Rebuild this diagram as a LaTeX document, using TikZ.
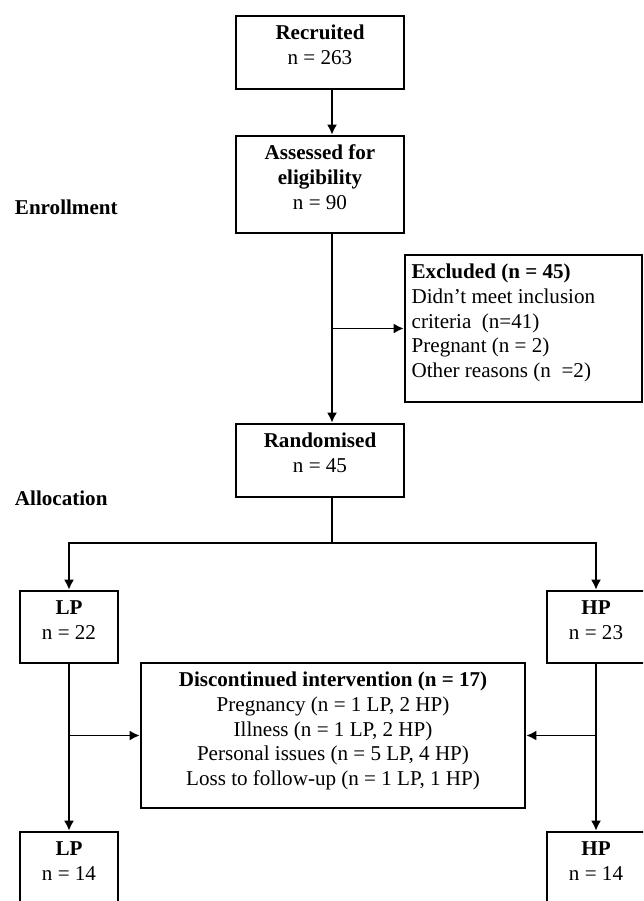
\documentclass[tikz,border=0pt]{standalone}
\usepackage{fontspec}
\setmainfont{Liberation Serif}
\usetikzlibrary{arrows.meta}
\def\pxu{0.03cm}

\begin{document}
\begin{tikzpicture}[x=\pxu,y=-\pxu,line width=1.6pt,
box/.style={draw,rectangle,line width=2.2pt,inner sep=0pt,minimum width=168*\pxu},
armbox/.style={box,minimum width=98*\pxu,minimum height=72*\pxu},
boxtext/.style={anchor=north,align=center,inner sep=0pt,font=\fontsize{18}{21.3}\selectfont},
stage/.style={anchor=west,inner sep=0pt,font=\fontsize{18}{21.3}\selectfont\bfseries},
flow/.style={-{Latex[length=3mm,width=3mm]}}]

\useasboundingbox (0,0) rectangle (643,901);
\clip (0,0) rectangle (643,901);

% stage labels
\node[stage] (enrol) at (14,207) {Enrollment};
\node[stage] (alloc) at (14,498) {Allocation};

% boxes
\node[box,minimum height=73*\pxu] (rec) at (320,52.5) {};
\node[boxtext] (rec-t) at ([yshift=-6*\pxu]rec.north) {\strut\textbf{Recruited}\\n = 263};
\node[box,minimum height=97*\pxu] (ass) at (320,184.5) {};
\node[boxtext] (ass-t) at ([yshift=-6*\pxu]ass.north) {\strut\textbf{Assessed for}\\\textbf{eligibility}\\n = 90};
\node[box,minimum width=237*\pxu,minimum height=147*\pxu] (exc) at (523.5,328.5) {};
\node[boxtext,anchor=north west,align=left] (exc-t) at ([xshift=7*\pxu,yshift=-6*\pxu]exc.north west) {\strut\textbf{Excluded (n = 45)}\\Didn’t meet inclusion\\criteria\ \ (n=41)\\Pregnant (n = 2)\\Other reasons (n\ \ =2)};
\node[box,minimum height=73*\pxu] (ran) at (320,460.5) {};
\node[boxtext] (ran-t) at ([yshift=-6*\pxu]ran.north) {\strut\textbf{Randomised}\\n = 45};

\node[armbox] (lp1) at (69,627) {};
\node[boxtext] (lp1-t) at ([yshift=-6*\pxu]lp1.north) {\strut\textbf{LP}\\n = 22};
\node[armbox] (hp1) at (596,627) {};
\node[boxtext] (hp1-t) at ([yshift=-6*\pxu]hp1.north) {\strut\textbf{HP}\\n = 23};
\node[box,minimum width=384*\pxu,minimum height=145*\pxu] (dis) at (333,735.5) {};
\node[boxtext] (dis-t) at ([yshift=-6*\pxu]dis.north) {\strut\textbf{Discontinued intervention (n = 17)}\\Pregnancy (n = 1 LP, 2 HP)\\Illness (n = 1 LP, 2 HP)\\Personal issues (n = 5 LP, 4 HP)\\Loss to follow-up (n = 1 LP, 1 HP)};
\node[armbox] (lp2) at (69,868) {};
\node[boxtext] (lp2-t) at ([yshift=-6*\pxu]lp2.north) {\strut\textbf{LP}\\n = 14};
\node[armbox] (hp2) at (596,868) {};
\node[boxtext] (hp2-t) at ([yshift=-6*\pxu]hp2.north) {\strut\textbf{HP}\\n = 14};

% connectors
\coordinate (spine) at (332,0);
\coordinate (split) at (332,543);
\draw[flow] (rec.south -| spine) -- (ass.north -| spine);
\draw[flow] (ass.south -| spine) -- (ran.north -| spine);
\draw[flow] (exc.west -| spine) -- (exc.west);
\draw (ran.south -| spine) -- (split);
\draw[flow] (split) -| (lp1.north);
\draw[flow] (split) -| (hp1.north);
\draw[flow] (lp1.south) -- (lp2.north);
\draw[flow] (hp1.south) -- (hp2.north);
\draw[flow] (lp1.south |- dis.west) -- (dis.west);
\draw[flow] (hp1.south |- dis.east) -- (dis.east);

\end{tikzpicture}
\end{document}
